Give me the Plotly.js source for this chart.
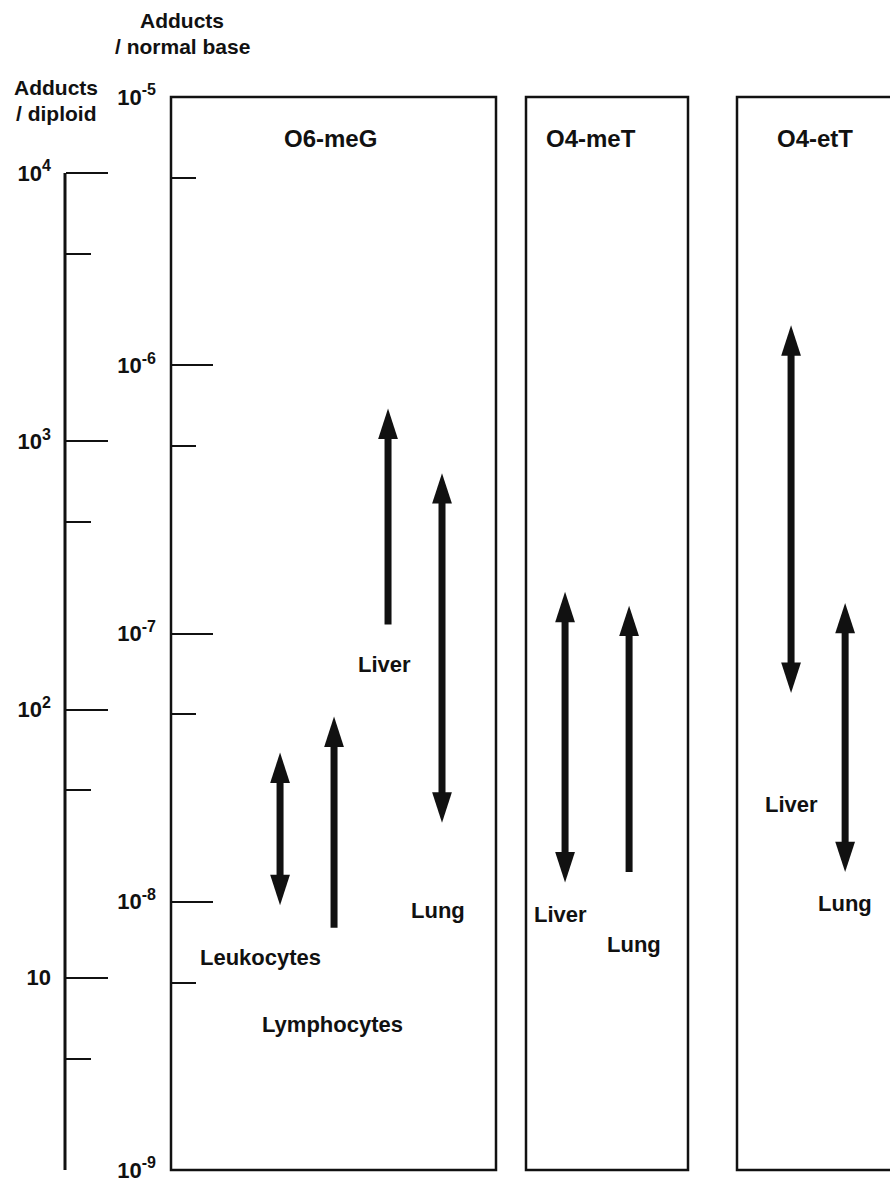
<!DOCTYPE html>
<html>
<head>
<meta charset="utf-8">
<script src="https://cdn.plot.ly/plotly-3.0.1.min.js"></script>
<style>html,body{margin:0;padding:0;background:#fff}</style>
</head>
<body>
<div id="chart" style="width:890px;height:1180px"></div>
<script>
// ---------------- data ----------------
const panelTitles = ["O6-meG", "O4-meT", "O4-etT"];

const o6Tissues = ["Leukocytes", "Lymphocytes", "Liver", "Lung"];
const o6Low     = [9.7e-9, 8.0e-9, 1.08e-7, 1.97e-8];
const o6High    = [3.6e-8, 4.9e-8, 6.9e-7, 3.96e-7];
const o6Kind    = ["range", "min", "min", "range"];

const o4meTissues = ["Liver", "Lung"];
const o4meLow     = [1.18e-8, 1.29e-8];
const o4meHigh    = [1.43e-7, 1.27e-7];
const o4meKind    = ["range", "min"];

const o4etTissues = ["Liver", "Lung"];
const o4etLow     = [6.0e-8, 1.29e-8];
const o4etHigh    = [1.41e-6, 1.30e-7];
const o4etKind    = ["range", "range"];

const baseTickVals  = [1e-9, 1e-8, 1e-7, 1e-6, 1e-5];
const baseExponents = ["-9", "-8", "-7", "-6", "-5"];
const baseMinorVals = [5e-9, 5e-8, 5e-7, 5e-6];

const diploidTickVals  = [10, 100, 1000, 10000];
const diploidExponents = ["", "2", "3", "4"];
const diploidMinorVals = [5, 50, 500, 5000];

// ---------------- layout constants ----------------
const W = 890, H = 1180, TOP = 97, BOT = 1170;
const INK = "#111";
const FONT = "Liberation Sans, Arial, Helvetica, sans-serif";
const panelPx = [[171, 496], [526, 688], [737, 890]];
const xRanges = [[-2.02, 4.0], [-0.61, 1.92], [-1.0, 1.83]];
const baseRangeLog = [-9, -5];
const diploidRangeLog = [0.2833, 4.2833];   // calibration of left scale vs right scale
const headTrim = 0.06;                       // decades hidden under arrow heads
const labelLog = [[-8.206, -8.456, -7.117, -8.031], [-8.046, -8.161], [-7.639, -8.005]];
const labelShift = [[-20, -2, -4, -4], [-5, 5], [0, 0]];
const titleXpx = [330, 591, 815];
const px2px = v => v / W;
const py2p = v => (BOT - v) / (BOT - TOP);
const powText = e => e === "" ? "10" : "10<sup><span style=\"font-size:16px\">" + e + "</span></sup>";

const panels = [
  {tissues: o6Tissues,   low: o6Low,   high: o6High,   kind: o6Kind},
  {tissues: o4meTissues, low: o4meLow, high: o4meHigh, kind: o4meKind},
  {tissues: o4etTissues, low: o4etLow, high: o4etHigh, kind: o4etKind}
];

const traces = [];
const annotations = [];
const shapes = [];
const trim = Math.pow(10, headTrim);

panels.forEach((p, k) => {
  const xa = k === 0 ? "x" : "x" + (k + 1);
  const xs = [], ys = [];
  const hx = [], hy = [], ang = [];
  p.tissues.forEach((t, i) => {
    const lo = p.kind[i] === "range" ? p.low[i] * trim : p.low[i];
    const hi = p.high[i] / trim;
    xs.push(t, t, t); ys.push(lo, hi, null);
    hx.push(t); hy.push(p.high[i]); ang.push(0);
    if (p.kind[i] === "range") { hx.push(t); hy.push(p.low[i]); ang.push(180); }
    annotations.push({
      xref: xa, yref: "y", x: i, y: labelLog[k][i], xshift: labelShift[k][i],
      text: t, showarrow: false, xanchor: "center", yanchor: "middle",
      font: {family: FONT, size: 22, color: INK, weight: 700}
    });
  });
  traces.push({type: "scatter", mode: "lines", x: xs, y: ys, xaxis: xa, yaxis: "y",
    line: {color: INK, width: 7}, hoverinfo: "skip", connectgaps: false});
  traces.push({type: "scatter", mode: "markers", x: hx, y: hy, xaxis: xa, yaxis: "y",
    marker: {symbol: "arrow", size: 32, angle: ang, color: INK, line: {width: 0}},
    hoverinfo: "skip", cliponaxis: false});
  shapes.push({type: "rect", xref: xa + " domain", yref: "y domain",
    x0: 0, x1: k === 2 ? 1.5 : 1, y0: 0, y1: 1, line: {color: INK, width: 2.5}, layer: "above"});
  annotations.push({xref: "paper", yref: "paper", x: px2px(titleXpx[k]), y: py2p(138),
    text: panelTitles[k], showarrow: false, xanchor: "center", yanchor: "middle",
    font: {family: FONT, size: 24, color: INK, weight: 700}});
});

// left scale axis line (starts at 10^4)
shapes.push({type: "line", xref: "paper", yref: "y2", x0: px2px(65), x1: px2px(65),
  y0: 10000, y1: Math.pow(10, diploidRangeLog[0]), line: {color: INK, width: 3}});

// header texts
[["Adducts", 182, 21], ["/ normal base", 182, 46], ["Adducts", 56, 88], ["/ diploid", 56, 113]].forEach(h => {
  annotations.push({xref: "paper", yref: "paper", x: px2px(h[1]), y: py2p(h[2]), text: h[0],
    showarrow: false, xanchor: "center", yanchor: "middle",
    font: {family: FONT, size: 21, color: INK, weight: 700}});
});

function xaxisDef(k) {
  const p = panelPx[k];
  return {domain: [p[0] / W, Math.min(p[1] / W, 1)], anchor: "y", type: "category",
    categoryorder: "array", categoryarray: panels[k].tissues, range: xRanges[k],
    showgrid: false, zeroline: false, showticklabels: false, ticks: "", showline: false, fixedrange: true};
}

const tickFont = {family: FONT, size: 22, color: INK, weight: 700};
const layout = {
  width: W, height: H,
  margin: {l: 0, r: 0, t: TOP, b: H - BOT, pad: 0},
  paper_bgcolor: "#fff", plot_bgcolor: "rgba(0,0,0,0)",
  showlegend: false,
  xaxis: xaxisDef(0), xaxis2: xaxisDef(1), xaxis3: xaxisDef(2),
  yaxis: {type: "log", range: baseRangeLog, anchor: "x", side: "left",
    showgrid: false, zeroline: false, showline: false,
    tickmode: "array", tickvals: baseTickVals, ticktext: baseExponents.map(powText),
    ticks: "inside", ticklen: 42, tickwidth: 2, tickcolor: INK,
    ticklabelstandoff: 14, ticklabeloverflow: "allow", tickfont: tickFont,
    minor: {tickmode: "array", tickvals: baseMinorVals, ticks: "inside", ticklen: 25, tickwidth: 2, tickcolor: INK, showgrid: false}},
  yaxis2: {type: "log", range: diploidRangeLog, overlaying: "y", anchor: "free", position: 65 / W, side: "left",
    showgrid: false, zeroline: false, showline: false,
    tickmode: "array", tickvals: diploidTickVals, ticktext: diploidExponents.map(powText),
    ticks: "inside", ticklen: 42, tickwidth: 2, tickcolor: INK,
    ticklabelstandoff: 14, ticklabeloverflow: "allow", tickfont: tickFont,
    minor: {tickmode: "array", tickvals: diploidMinorVals, ticks: "inside", ticklen: 25, tickwidth: 2, tickcolor: INK, showgrid: false}},
  shapes: shapes,
  annotations: annotations
};

Plotly.newPlot("chart", traces, layout, {staticPlot: true, displayModeBar: false});
</script>
</body>
</html>
